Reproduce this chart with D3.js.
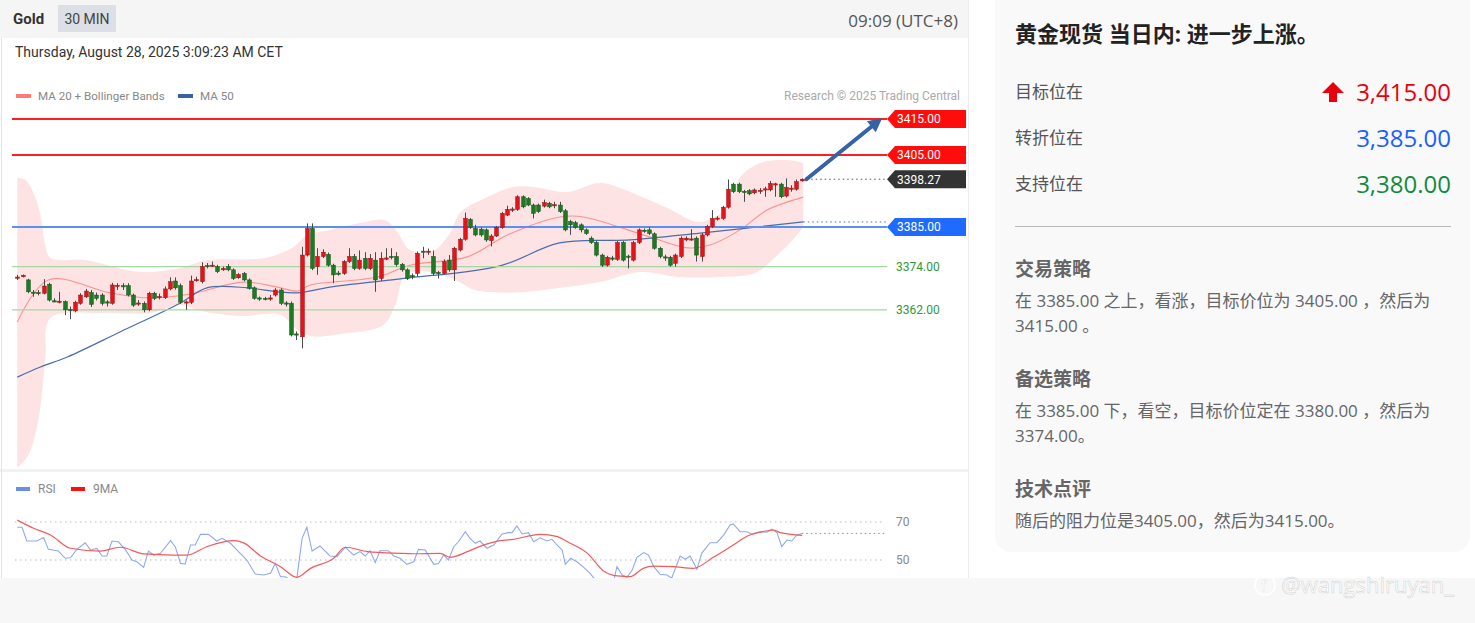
<!DOCTYPE html>
<html><head><meta charset="utf-8">
<script src="https://cdn.jsdelivr.net/npm/d3@7"></script>
<style>html,body{margin:0;padding:0;background:#fff;overflow:hidden}</style>
</head><body><svg id="c" width="1475" height="623"></svg>
<script>
// ---------- DATA ----------
const openP  = [3371.0,3371.2,3370.3,3366.9,3366.8,3366.6,3369.1,3364.5,3364.3,3364.3,3362.1,3361.7,3363.8,3365.6,3366.8,3366.1,3366.1,3364.2,3363.8,3368.7,3368.7,3368.7,3366.1,3363.8,3363.8,3362.0,3366.6,3365.6,3365.4,3367.8,3370.0,3368.7,3364.1,3364.1,3370.3,3369.8,3374.3,3374.3,3374.0,3373.1,3374.0,3373.1,3370.9,3372.1,3370.3,3368.1,3365.3,3365.2,3365.2,3366.1,3367.5,3363.9,3363.8,3355.3,3354.5,3377.2,3384.6,3374.0,3376.8,3377.4,3374.4,3372.2,3372.1,3375.4,3376.8,3373.5,3376.3,3373.5,3375.8,3370.7,3376.3,3376.8,3376.8,3374.6,3373.1,3371.5,3372.1,3378.3,3378.2,3376.8,3372.4,3372.1,3375.8,3373.1,3378.6,3381.6,3387.1,3384.6,3384.4,3384.2,3381.2,3382.5,3384.9,3388.3,3389.9,3389.9,3393.4,3392.9,3391.1,3391.1,3390.8,3391.6,3391.1,3391.1,3389.5,3386.5,3386.2,3385.6,3384.2,3381.9,3380.7,3377.2,3374.4,3376.4,3376.0,3380.7,3376.9,3375.8,3380.7,3384.1,3384.2,3383.1,3379.1,3376.7,3376.6,3374.9,3376.8,3381.4,3381.6,3381.9,3376.8,3382.8,3385.1,3387.4,3387.4,3390.5,3396.9,3396.9,3394.9,3395.1,3394.5,3395.1,3395.5,3395.3,3396.9,3396.9,3393.6,3395.7,3395.5,3397.8];
const highP  = [3371.7,3371.8,3370.6,3367.5,3367.5,3370.5,3369.5,3365.2,3367.0,3364.6,3362.9,3364.5,3366.6,3367.8,3367.5,3366.8,3366.6,3364.7,3369.5,3369.4,3369.4,3369.4,3366.5,3364.7,3364.3,3367.0,3367.0,3366.5,3368.5,3371.0,3371.0,3369.3,3364.6,3371.5,3371.2,3375.2,3375.0,3375.4,3374.5,3374.0,3374.7,3373.5,3372.2,3372.5,3370.7,3368.5,3365.7,3365.6,3366.1,3368.0,3368.0,3364.4,3364.3,3356.0,3379.5,3386.0,3386.0,3379.1,3378.8,3377.9,3374.8,3372.8,3375.8,3379.1,3377.5,3378.5,3378.0,3377.5,3378.0,3378.0,3379.1,3379.1,3378.0,3375.0,3373.5,3372.1,3378.2,3379.5,3379.0,3378.5,3372.8,3376.0,3377.2,3379.5,3382.0,3389.0,3387.5,3385.6,3384.8,3384.6,3383.0,3385.3,3389.2,3390.9,3390.5,3393.8,3393.8,3393.3,3391.5,3391.5,3392.6,3392.0,3392.0,3392.0,3390.0,3387.0,3386.7,3386.0,3384.6,3382.4,3381.1,3377.6,3377.0,3377.0,3381.1,3381.1,3377.3,3381.1,3384.6,3384.6,3384.9,3383.5,3379.5,3377.3,3377.0,3377.6,3382.4,3382.4,3384.4,3382.4,3383.3,3385.6,3389.7,3388.0,3390.9,3398.2,3397.3,3397.3,3395.3,3395.5,3395.7,3395.8,3396.2,3397.8,3397.3,3397.3,3398.5,3396.6,3398.2,3398.5];
const lowP   = [3370.3,3371.0,3366.6,3365.6,3366.0,3366.3,3364.3,3364.1,3363.8,3360.5,3359.4,3361.3,3363.4,3365.3,3362.8,3364.6,3363.2,3362.9,3363.4,3367.5,3367.5,3365.7,3362.8,3363.1,3361.3,3361.6,3364.7,3364.9,3365.0,3367.4,3367.6,3363.6,3362.0,3363.6,3369.8,3369.3,3373.5,3373.9,3372.2,3372.8,3372.7,3370.3,3370.6,3369.9,3367.6,3364.8,3364.5,3364.6,3364.5,3365.7,3363.3,3362.9,3354.6,3353.6,3351.3,3376.8,3373.0,3371.7,3376.4,3374.0,3369.4,3371.5,3371.7,3375.0,3373.0,3373.1,3373.0,3373.1,3367.0,3370.0,3375.8,3376.0,3374.0,3372.6,3370.3,3370.5,3371.2,3376.3,3377.3,3371.6,3370.7,3371.7,3372.6,3370.0,3378.2,3381.2,3384.5,3382.4,3382.3,3380.9,3379.6,3382.2,3384.5,3388.0,3389.2,3389.5,3390.2,3390.8,3387.4,3388.9,3390.4,3390.2,3390.2,3388.9,3383.8,3382.8,3384.5,3383.5,3382.8,3380.3,3376.8,3373.9,3374.0,3375.6,3375.6,3375.4,3373.5,3375.4,3380.3,3383.4,3382.8,3378.7,3376.3,3375.6,3374.0,3374.0,3376.4,3381.0,3381.2,3375.4,3375.4,3382.4,3384.7,3386.8,3387.0,3390.1,3394.4,3394.4,3392.0,3393.8,3394.1,3394.2,3393.4,3394.9,3393.4,3393.0,3393.2,3394.8,3395.1,3397.6];
const closeP = [3371.1,3371.6,3367.0,3366.8,3366.7,3368.6,3364.7,3364.4,3364.4,3362.0,3362.0,3364.1,3366.1,3367.2,3363.5,3365.2,3363.8,3364.1,3368.9,3368.8,3368.6,3366.1,3363.3,3363.9,3362.0,3366.6,3365.2,3365.7,3367.8,3369.8,3368.1,3364.1,3364.2,3370.0,3370.4,3374.0,3374.2,3374.4,3372.6,3373.5,3373.1,3370.7,3371.8,3370.3,3368.0,3365.2,3365.2,3365.1,3365.3,3367.5,3363.8,3363.8,3355.0,3355.1,3377.2,3384.6,3373.5,3376.8,3378.0,3374.4,3371.7,3372.1,3375.4,3376.8,3373.5,3375.8,3373.5,3376.3,3370.3,3376.3,3376.4,3376.7,3374.6,3373.1,3370.7,3371.4,3377.7,3378.2,3378.3,3372.1,3372.3,3375.4,3373.1,3379.1,3381.6,3387.4,3384.9,3382.8,3382.8,3381.4,3382.5,3384.9,3388.8,3389.9,3390.0,3393.4,3390.6,3391.1,3388.8,3389.3,3391.8,3390.6,3391.2,3389.3,3384.2,3385.6,3384.9,3384.2,3383.2,3380.7,3377.2,3374.4,3376.6,3376.3,3380.7,3375.8,3376.8,3380.7,3384.2,3384.0,3383.2,3379.1,3376.8,3376.6,3374.4,3377.2,3381.9,3381.9,3381.7,3377.2,3382.8,3385.1,3387.4,3387.5,3390.5,3395.5,3394.8,3394.8,3394.8,3394.2,3395.3,3395.2,3395.6,3397.1,3397.0,3393.4,3396.0,3395.8,3397.6,3398.27];

// indicator curves: [bar index, price]
const ma20Pts = [[0,3358.6],[5.9,3370.3],[17.7,3366.7],[25.3,3365.3],[32.9,3366.4],[42.9,3369.7],[49.4,3368.3],[53.2,3367.2],[55.7,3368.9],[68.4,3371.1],[74.6,3374.4],[85.5,3376.7],[93.1,3382.8],[103.1,3387.8],[107.5,3387.8],[120.2,3382.2],[127.3,3379.2],[131.6,3380.0],[137.3,3384.2],[142.4,3389.7],[149.3,3393.3]];
const ma50Pts = [[0,3343.3],[4.4,3346.1],[9.5,3348.9],[19.6,3355.9],[31,3363.9],[36,3368.1],[43.7,3368.1],[49.4,3367.0],[53.2,3366.7],[59.4,3368.3],[72.7,3370.6],[91.7,3374.2],[103,3380.6],[116.4,3381.4],[129.7,3383.3],[149.3,3386.4]];
const bbUpperPts = [[0,3398.6],[1.5,3398.1],[3,3394.7],[4.4,3388.3],[5.3,3380.0],[6.3,3376.4],[12.9,3375.8],[23.4,3372.5],[31,3373.6],[36.1,3375.8],[47.1,3376.4],[52.4,3379.4],[55.1,3382.8],[59.4,3384.2],[65.1,3386.1],[69.9,3386.9],[72.2,3383.6],[74.6,3378.6],[79,3378.3],[82.2,3383.3],[84.1,3388.9],[89.3,3393.3],[94.2,3396.1],[98,3396.1],[104.5,3394.7],[110.7,3397.2],[117,3394.4],[123.5,3390.3],[129.7,3386.4],[134.9,3390.6],[137.3,3398.9],[141.1,3402.8],[146.2,3403.6],[149.3,3402.8]];
const bbLowerPts = [[0,3318.1],[2.1,3321.7],[4,3331.4],[5.3,3348.1],[6.3,3359.7],[15.8,3361.1],[25.3,3361.1],[31,3363.3],[34.8,3361.7],[42.4,3360.3],[50,3360.6],[52.8,3356.9],[55.7,3354.7],[61.3,3355.3],[69.5,3357.8],[71.8,3363.3],[73.7,3371.7],[78.4,3372.5],[83.2,3370.3],[87,3367.5],[95.5,3366.9],[103.1,3368.1],[110.7,3369.7],[118.3,3372.5],[125.9,3371.1],[133.5,3371.1],[140.2,3372.2],[144,3376.7],[146.8,3380.6],[149.3,3385.0]];

const rsiPts = [[0,67.2],[0.9,67.2],[1.8,60],[3.7,60],[5.0,61.8],[5.9,55.6],[7.8,54.7],[9.1,50.9],[10.1,51.2],[11.3,55.6],[12.9,59.1],[13.9,55.3],[15.1,56.1],[16.1,52.1],[17.0,52.1],[18.0,60],[19.2,59.6],[20.5,55.6],[21.8,50],[22.7,49.1],[24.0,46.1],[24.9,54.7],[25.9,52.6],[27.2,53.5],[29.1,60.2],[30.0,57],[31.0,48.2],[31.9,47.9],[32.9,57.9],[33.8,57.9],[34.8,63.5],[36.3,63.5],[37.9,60],[38.9,61.4],[40.5,58.8],[41.7,55.3],[43.6,50],[45.2,42.6],[46.8,42.1],[48.1,43],[49.0,48.2],[50.0,41.2],[50.9,41.2],[51.9,39.5],[53.1,40.4],[54.1,61.4],[55.0,67.2],[56.0,54.7],[57.5,57.4],[59.4,52.1],[60.7,51.8],[62.3,56.7],[63.9,52.6],[65.1,54.4],[66.1,52.1],[67.0,54.9],[68.0,48.6],[68.9,54.9],[70.5,54.9],[71.5,52.1],[72.7,50.9],[74.0,47.7],[75.3,49.1],[76.2,55.6],[77.5,55.3],[79.1,47.7],[80.0,48.2],[81.0,52.6],[81.9,50],[82.9,57],[83.8,59.6],[85.1,64.9],[86.0,61.4],[87.0,58.8],[87.9,60],[89.2,56.2],[90.5,57.9],[92.1,63.7],[93.3,64.4],[94.0,64.4],[94.9,67.9],[95.9,63.7],[97.1,64.4],[98.1,59.6],[99.3,61.7],[100.6,60],[101.6,60.9],[102.5,57.9],[103.5,55.3],[104.1,47.7],[105.1,50.9],[106.3,49.1],[107.6,46.1],[108.8,43],[109.8,39.5],[111.4,38.6],[113.3,39.1],[113.9,46.5],[114.9,42.1],[115.8,40.9],[116.8,44.7],[117.7,51.4],[119.0,53.9],[119.9,52.6],[120.9,46.5],[122.1,42.5],[123.4,42.1],[124.3,40.4],[125.9,52.1],[126.9,50.4],[127.8,52.1],[129.1,45.1],[130.0,53.5],[131.6,59.1],[132.9,59.1],[134.2,63.2],[135.4,68.4],[136.0,69],[137.3,64.9],[138.6,64.9],[139.5,63.7],[141.1,64.9],[142.4,64.6],[143.3,66.2],[144.3,64.4],[145.2,57],[146.2,60.5],[147.1,60],[148.1,63.2],[149.0,64]];
const rsiMaPts = [[0,71],[3.1,66.7],[6.3,63.2],[10.1,56.2],[15.8,54.7],[19.6,56.7],[24.0,53.2],[29.7,52.6],[32.2,52.6],[36.0,57],[41.1,60.2],[43.0,59],[46.2,52.1],[50.0,46.5],[53.1,40.9],[55.7,45.6],[60.1,50.9],[62.3,56.7],[66.5,54.4],[72.7,53.5],[75.2,53.3],[80.3,53.5],[82.2,51.4],[85.5,54.4],[87.9,57.2],[91.7,60.2],[94.2,60.9],[99.3,63.5],[102.6,62.3],[104.5,59.6],[108.3,53.5],[111.3,44.4],[114,41.6],[116.4,41.2],[118.9,45.6],[120.8,46.8],[124.6,46.5],[128.4,45.6],[132.2,51.4],[136,57.9],[138.7,62.6],[142.5,65.4],[143.6,65.8],[144.9,64.4],[149.1,63]];

const levelVals   = [3415, 3405, 3385, 3374, 3362];
const levelLabels = ["3415.00", "3405.00", "3385.00", "3374.00", "3362.00"];
const levelKinds  = ["res", "res", "pivot", "sup", "sup"];
const lastPrice = 3398.27;
const arrowFrom = [149.9, 3398.27], arrowTo = [164.3, 3415.3];
const rsiTicks = [70, 50];

const panelTitle = "黄金现货 当日内: 进一步上涨。";
const keyLabels = ["目标位在", "转折位在", "支持位在"];
const keyValues = ["3,415.00", "3,385.00", "3,380.00"];
const sections = [
  {head: "交易策略", lines: ["在 3385.00 之上，看涨，目标价位为 3405.00 ，然后为", "3415.00 。"]},
  {head: "备选策略", lines: ["在 3385.00 下，看空，目标价位定在 3380.00 ，然后为", "3374.00。"]},
  {head: "技术点评", lines: ["随后的阻力位是3405.00，然后为3415.00。"]}
];

// ---------- DRAW ----------
const svg = d3.select("#c");
const F = "Roboto, 'Liberation Sans', Arial, sans-serif";
const FC = "'Open Sans', 'Noto Sans CJK SC', sans-serif";

svg.append("rect").attr("x",0).attr("y",0).attr("width",1475).attr("height",623).attr("fill","#ffffff");
svg.append("rect").attr("x",0).attr("y",578).attr("width",1475).attr("height",45).attr("fill","#f7f7f7");
svg.append("rect").attr("x",0).attr("y",0).attr("width",968).attr("height",38).attr("fill","#f5f5f5");
svg.append("rect").attr("x",0).attr("y",469).attr("width",968).attr("height",3).attr("fill","#f1f2f4");
svg.append("line").attr("x1",1.5).attr("x2",1.5).attr("y1",38).attr("y2",578).attr("stroke","#e4e4e4");
svg.append("line").attr("x1",968.5).attr("x2",968.5).attr("y1",0).attr("y2",578).attr("stroke","#ececec");

svg.append("text").attr("x",13).attr("y",24).text("Gold").attr("font-family",F).attr("font-weight","bold").attr("font-size",15).attr("fill","#333");
svg.append("rect").attr("x",58).attr("y",5).attr("width",58).attr("height",27).attr("fill","#dcdfe5");
svg.append("text").attr("x",87).attr("y",24).attr("text-anchor","middle").text("30 MIN").attr("font-family",F).attr("font-size",14).attr("fill","#444");
svg.append("text").attr("x",958).attr("y",27).attr("text-anchor","end").text("09:09 (UTC+8)").attr("font-family",FC).attr("font-size",17).attr("fill","#555");
svg.append("text").attr("x",15).attr("y",57).text("Thursday, August 28, 2025 3:09:23 AM CET").attr("font-family",F).attr("font-size",14).attr("fill","#333");

// legend
svg.append("rect").attr("x",16).attr("y",94).attr("width",15).attr("height",4).attr("fill","#ff7b7b");
svg.append("text").attr("x",38).attr("y",100).text("MA 20 + Bollinger Bands").attr("font-family",F).attr("font-size",11.6).attr("fill","#888");
svg.append("rect").attr("x",178).attr("y",94).attr("width",15).attr("height",4).attr("fill","#3a5ea8");
svg.append("text").attr("x",200).attr("y",100).text("MA 50").attr("font-family",F).attr("font-size",11.6).attr("fill","#888");
svg.append("text").attr("x",960).attr("y",100).attr("text-anchor","end").text("Research © 2025 Trading Central").attr("font-family",F).attr("font-size",12).attr("fill","#aaa");

const x = d3.scaleLinear().domain([0,149]).range([17.3,801.7]);
const y = d3.scaleLinear().domain([3385,3415]).range([227,119]);

svg.append("clipPath").attr("id","mainclip").append("rect").attr("x",3).attr("y",108).attr("width",964).attr("height",360);
const g = svg.append("g").attr("clip-path","url(#mainclip)");

// bollinger band
const cr = d3.curveCatmullRom.alpha(0.5);
const lineP = d3.line().x(d=>x(d[0])).y(d=>y(d[1])).curve(cr);
const up = lineP(bbUpperPts);
const lo = lineP(bbLowerPts.slice().reverse()).replace(/^M/,"L");
g.append("path").attr("d", up + lo + "Z").attr("fill","#fde3e3");

// MA lines
g.append("path").attr("d", lineP(ma20Pts)).attr("fill","none").attr("stroke","#ff9191").attr("stroke-width",1.1);
g.append("path").attr("d", lineP(ma50Pts)).attr("fill","none").attr("stroke","#4a6db0").attr("stroke-width",1.2);

// level lines
const lvColor = {res:"#ff1f1f", pivot:"#5b8ff0", sup:"#a3d8a3"};
const lvWidth = {res:2, pivot:2, sup:1.3};
levelVals.forEach((v,k)=>{
  g.append("line").attr("x1",12).attr("x2",887).attr("y1",y(v)).attr("y2",y(v))
    .attr("stroke",lvColor[levelKinds[k]]).attr("stroke-width",lvWidth[levelKinds[k]]);
});

// candles
const cg = g.append("g");
closeP.forEach((c,i)=>{
  const o = openP[i], h = highP[i], l = lowP[i];
  const xc = Math.round(x(i)) + 0.5;
  cg.append("line").attr("x1",xc).attr("x2",xc).attr("y1",y(h)).attr("y2",y(l)).attr("stroke","#4a4a4a").attr("stroke-width",1);
  const upc = c >= o;
  const top = y(Math.max(o,c)), bh = Math.max(1.2, Math.abs(y(o)-y(c)));
  cg.append("rect").attr("x",xc-1.9).attr("y",top).attr("width",3.8).attr("height",bh)
    .attr("fill", upc ? "#e3131b" : "#1c7a22").attr("stroke", upc ? "#9a1010":"#10501a").attr("stroke-width",0.5);
});

// dotted lines to labels
const lastMa50 = ma50Pts[ma50Pts.length-1][1];
svg.append("line").attr("x1",x(149)+5).attr("x2",886).attr("y1",y(lastPrice)).attr("y2",y(lastPrice))
  .attr("stroke","#555").attr("stroke-width",1).attr("stroke-dasharray","1.5,3");
svg.append("line").attr("x1",x(149.3)).attr("x2",886).attr("y1",y(lastMa50)).attr("y2",y(lastMa50))
  .attr("stroke","#4a6db0").attr("stroke-width",1).attr("stroke-dasharray","1.5,3");

// arrow
const ax0 = x(arrowFrom[0]), ay0 = y(arrowFrom[1]), ax1 = x(arrowTo[0]), ay1 = y(arrowTo[1]);
const ang = Math.atan2(ay1-ay0, ax1-ax0);
const hl = 14, hw = 7;
const bx = ax1 - hl*Math.cos(ang), by = ay1 - hl*Math.sin(ang);
svg.append("line").attr("x1",ax0).attr("y1",ay0).attr("x2",bx+2*Math.cos(ang)).attr("y2",by+2*Math.sin(ang))
  .attr("stroke","#3563a6").attr("stroke-width",4).attr("stroke-linecap","round");
svg.append("path").attr("d",`M${ax1},${ay1}L${bx - hw*Math.sin(ang)},${by + hw*Math.cos(ang)}L${bx + hw*Math.sin(ang)},${by - hw*Math.cos(ang)}Z`).attr("fill","#3563a6");

// labels
function box(v, txt, fill){
  const yy = y(v);
  svg.append("path").attr("d",`M887,${yy}L895,${yy-9}L966,${yy-9}L966,${yy+9}L895,${yy+9}Z`).attr("fill",fill);
  svg.append("text").attr("x",897).attr("y",yy+4.3).text(txt).attr("font-family",F).attr("font-size",12).attr("fill","#fff");
}
const boxFill = {res:"#ff0d0d", pivot:"#1f6bff"};
levelVals.forEach((v,k)=>{
  const kind = levelKinds[k];
  if (kind === "sup") {
    svg.append("text").attr("x",896).attr("y",y(v)+4.3).text(levelLabels[k]).attr("font-family",F).attr("font-size",12).attr("fill","#2f9a35");
  } else box(v, levelLabels[k], boxFill[kind]);
});
box(lastPrice, lastPrice.toFixed(2), "#333333");

// ---------- RSI ----------
svg.append("rect").attr("x",16).attr("y",487).attr("width",14).attr("height",4).attr("fill","#6a8fe8");
svg.append("text").attr("x",38).attr("y",493).text("RSI").attr("font-family",F).attr("font-size",12).attr("fill","#888");
svg.append("rect").attr("x",71).attr("y",487).attr("width",14).attr("height",4).attr("fill","#ff1010");
svg.append("text").attr("x",93).attr("y",493).text("9MA").attr("font-family",F).attr("font-size",12).attr("fill","#888");

const ry = d3.scaleLinear().domain([50,70]).range([560,522]);
rsiTicks.forEach(t=>{
  svg.append("line").attr("x1",15).attr("x2",885).attr("y1",ry(t)).attr("y2",ry(t)).attr("stroke","#bbb").attr("stroke-dasharray","1.5,3.5");
  svg.append("text").attr("x",896).attr("y",ry(t)+4).text(t).attr("font-family",F).attr("font-size",12).attr("fill","#888");
});
svg.append("clipPath").attr("id","rsiclip").append("rect").attr("x",3).attr("y",474).attr("width",964).attr("height",104);
const rg = svg.append("g").attr("clip-path","url(#rsiclip)");
const lineR = d3.line().x(d=>x(d[0])).y(d=>ry(d[1]));
const lastRsi = rsiPts[rsiPts.length-1];
rg.append("line").attr("x1",x(lastRsi[0])).attr("x2",885).attr("y1",ry(lastRsi[1])).attr("y2",ry(lastRsi[1])).attr("stroke","#6a8fe8").attr("stroke-dasharray","1.5,3");
rg.append("path").attr("d",lineR(rsiPts)).attr("fill","none").attr("stroke","#8ea9ee").attr("stroke-width",1.1);
rg.append("path").attr("d",lineR.curve(d3.curveMonotoneX)(rsiMaPts)).attr("fill","none").attr("stroke","#f45a5a").attr("stroke-width",1.2);

// ---------- RIGHT PANEL ----------
svg.append("rect").attr("x",995).attr("y",-20).attr("width",475).attr("height",572).attr("rx",16).attr("fill","#f9f9fa");
svg.append("text").attr("x",1015).attr("y",42).text(panelTitle).attr("font-family",FC).attr("font-weight","bold").attr("font-size",22).attr("fill","#222");
const rowY = [92, 138, 184];
const valColor = ["#e8000b", "#1b5fff", "#138a3c"];
keyLabels.forEach((t,k)=>{
  svg.append("text").attr("x",1015).attr("y",rowY[k]+6).text(t).attr("font-family",FC).attr("font-size",17).attr("fill","#555");
  svg.append("text").attr("x",1451).attr("y",rowY[k]+9).attr("text-anchor","end").text(keyValues[k]).attr("font-family",FC).attr("font-size",24).attr("fill",valColor[k]);
});
svg.append("path").attr("d","M1333,82L1344,93L1337,93L1337,102L1329,102L1329,93L1322,93Z").attr("fill","#e8000b");
svg.append("line").attr("x1",1015).attr("x2",1451).attr("y1",226.5).attr("y2",226.5).attr("stroke","#b8b8b8");
const headY = [269, 379, 489];
sections.forEach((s,k)=>{
  svg.append("text").attr("x",1015).attr("y",headY[k]+7).text(s.head).attr("font-family",FC).attr("font-weight","bold").attr("font-size",19).attr("fill","#666");
  s.lines.forEach((ln,j)=>{
    svg.append("text").attr("x",1015).attr("y",headY[k]+38+j*25).text(ln).attr("font-family",FC).attr("font-size",17).attr("fill","#666");
  });
});

// watermark
svg.append("circle").attr("cx",1265).attr("cy",585).attr("r",10).attr("fill","none").attr("stroke","#fff").attr("stroke-width",1.6);
svg.append("text").attr("x",1261).attr("y",591).text("f").attr("font-family",FC).attr("font-size",16).attr("fill","#fff").attr("stroke","#ddd").attr("stroke-width",0.3);
svg.append("text").attr("x",1281).attr("y",593).text("@wangshiruyan_").attr("font-family",FC).attr("font-size",22).attr("fill","#fff").attr("stroke","#cfcfcf").attr("stroke-width",0.5);
</script></body></html>
